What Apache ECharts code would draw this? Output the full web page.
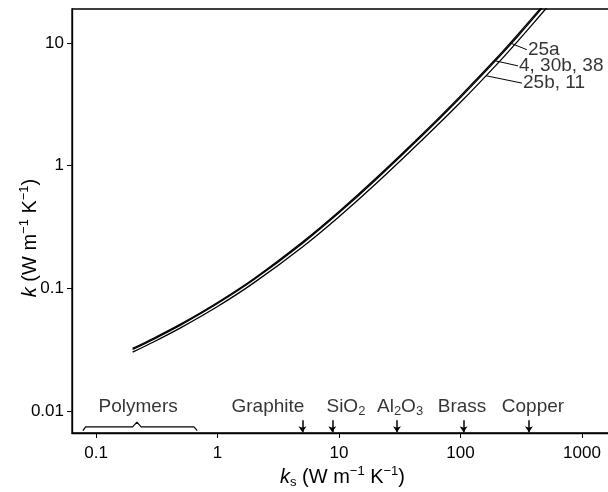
<!DOCTYPE html>
<html>
<head>
<meta charset="utf-8">
<script src="https://cdn.jsdelivr.net/npm/echarts@6/dist/echarts.min.js"></script>
<style>
  html, body { margin: 0; background: #fff; }
  #chart { width: 608px; height: 492px; }
</style>
</head>
<body>
<div id="chart"></div>
<script>
// solid conductivity ks (W m-1 K-1), x of every curve point
const ks = [0.2, 0.3, 0.5, 1, 2, 5, 10, 20, 50, 100, 200, 300, 500, 700];
// effective conductivity k for each curve
const k25a = [0.0323, 0.0393, 0.0512, 0.0765, 0.12, 0.238, 0.422, 0.783, 1.86, 3.7, 7.6, 11.9, 21.3, 31.7];
const k4_30b_38 = [0.0317, 0.0385, 0.0502, 0.075, 0.1177, 0.232, 0.412, 0.764, 1.81, 3.59, 7.38, 11.5, 20.7, 30.8];
const k25b_11 = [0.0301, 0.0366, 0.0477, 0.0709, 0.111, 0.217, 0.383, 0.707, 1.67, 3.28, 6.72, 10.5, 18.8, 28.0];
const curveNames = ["25a", "4, 30b, 38", "25b, 11"];
// leader lines: [ks, k] on curve -> [ks, k] at label
const leaderFrom = [[256, 10], [194, 7.14], [162, 5.4]];
const leaderTo = [[352, 8.8], [297, 6.5], [321, 4.7]];

// materials along the bottom
const materialNames = ["Graphite", "SiO{s|2}", "Al{s|2}O{s|3}", "Brass", "Copper"];
const materialKs = [5, 8.8, 30, 106, 366];
const materialTextKs = [2.6, 11.4, 31.8, 103, 395];
const polymerText = "Polymers";
const polymerTextKs = 0.222;
const polymerBraceKs = [0.078, 0.082, 0.2, 0.217, 0.235, 0.64, 0.68];
const polymerBraceK = [0.0069, 0.0074, 0.0074, 0.0081, 0.0074, 0.0074, 0.0069];

const xMin = 0.0634, xMax = 1800;
const yMin = 0.0066, yMax = 18.9;

const font = "Liberation Sans";
const chart = echarts.init(document.getElementById("chart"));

function curve(name, values) {
  return {
    name: name,
    type: "line",
    data: ks.map((x, i) => [x, values[i]]),
    smooth: 0.3,
    symbol: "none",
    clip: true,
    lineStyle: { color: "#000", width: 1.3 },
    z: 3,
  };
}

function tickText(v) {
  return String(Number(v.toPrecision(3)));
}

const subRich = {
  s: { fontSize: 13, lineHeight: 10, verticalAlign: "bottom", fontFamily: font, color: "#000" },
};

const option = {
  animation: false,
  backgroundColor: "#fff",
  grid: {
    left: 72,
    right: -5,
    top: 9,
    bottom: 59,
    outerBoundsMode: "none",
    show: true,
    borderColor: "#000",
    borderWidth: 1.3,
  },
  xAxis: {
    type: "log",
    min: xMin,
    max: xMax,
    logBase: 10,
    name: "{i|k}{s|s} (W m{p|\u22121} K{p|\u22121})",
    nameLocation: "middle",
    nameGap: 32,
    nameMoveOverlap: false,
    nameTextStyle: {
      fontSize: 20,
      fontFamily: font,
      color: "#000",
      lineHeight: 24,
      rich: {
        i: { fontSize: 20, fontStyle: "italic", fontFamily: font, color: "#000" },
        s: { fontSize: 13, lineHeight: 10, verticalAlign: "bottom", fontFamily: font, color: "#000" },
        p: { fontSize: 13, lineHeight: 10, verticalAlign: "top", fontFamily: font, color: "#000" },
      },
    },
    axisLine: { lineStyle: { color: "#000", width: 1.3 } },
    axisTick: { show: true, length: 5, lineStyle: { color: "#000" } },
    axisLabel: {
      color: "#000",
      fontSize: 17,
      fontFamily: font,
      margin: 12,
      showMinLabel: false,
      showMaxLabel: false,
      formatter: tickText,
    },
    splitLine: { show: false },
  },
  yAxis: {
    type: "log",
    min: yMin,
    max: yMax,
    logBase: 10,
    name: "{i|k} (W m{p|\u22121} K{p|\u22121})",
    nameLocation: "middle",
    nameGap: 30,
    nameMoveOverlap: false,
    nameTextStyle: {
      fontSize: 20,
      fontFamily: font,
      color: "#000",
      lineHeight: 24,
      padding: [0, 34, 0, 0],
      rich: {
        i: { fontSize: 20, fontStyle: "italic", fontFamily: font, color: "#000" },
        p: { fontSize: 13, lineHeight: 10, verticalAlign: "top", fontFamily: font, color: "#000" },
      },
    },
    axisLine: { lineStyle: { color: "#000", width: 1.3 } },
    axisTick: { show: true, length: 5, lineStyle: { color: "#000" } },
    axisLabel: {
      color: "#000",
      fontSize: 17,
      fontFamily: font,
      margin: 8,
      showMinLabel: false,
      showMaxLabel: false,
      formatter: tickText,
    },
    splitLine: { show: false },
  },
  series: [
    curve(curveNames[0], k25a),
    curve(curveNames[1], k4_30b_38),
    curve(curveNames[2], k25b_11),
    // leader lines to curve labels
    {
      type: "lines",
      coordinateSystem: "cartesian2d",
      silent: true,
      lineStyle: { color: "#000", width: 1, opacity: 1 },
      data: leaderFrom.map((p, i) => ({ coords: [p, leaderTo[i]] })),
    },
    // curve labels
    {
      type: "scatter",
      symbolSize: 0,
      silent: true,
      data: leaderTo.map((p, i) => ({ value: p, name: curveNames[i] })),
      label: {
        show: true,
        position: "right",
        distance: 1,
        formatter: "{b}",
        color: "#000",
        fontSize: 19,
        fontFamily: font,
      },
    },
    // material arrows
    {
      type: "lines",
      coordinateSystem: "cartesian2d",
      silent: true,
      symbol: ["none", "arrow"],
      symbolSize: 6,
      lineStyle: { color: "#000", width: 1.5, opacity: 1 },
      data: materialKs.map((x) => ({ coords: [[x, 0.0084], [x, 0.0067]] })),
    },
    // material names
    {
      type: "scatter",
      symbolSize: 0,
      silent: true,
      data: materialTextKs
        .map((x, i) => ({ value: [x, 0.0108], name: materialNames[i] }))
        .concat([{ value: [polymerTextKs, 0.0108], name: polymerText }]),
      label: {
        show: true,
        position: "inside",
        formatter: "{b}",
        color: "#000",
        fontSize: 19,
        fontFamily: font,
        lineHeight: 22,
        rich: subRich,
      },
    },
    // polymer brace
    {
      type: "line",
      symbol: "none",
      silent: true,
      data: polymerBraceKs.map((x, i) => [x, polymerBraceK[i]]),
      lineStyle: { color: "#000", width: 1.2 },
    },
  ],
};
chart.setOption(option);
window.addEventListener("resize", function () {
  chart.resize();
});
</script>
</body>
</html>
